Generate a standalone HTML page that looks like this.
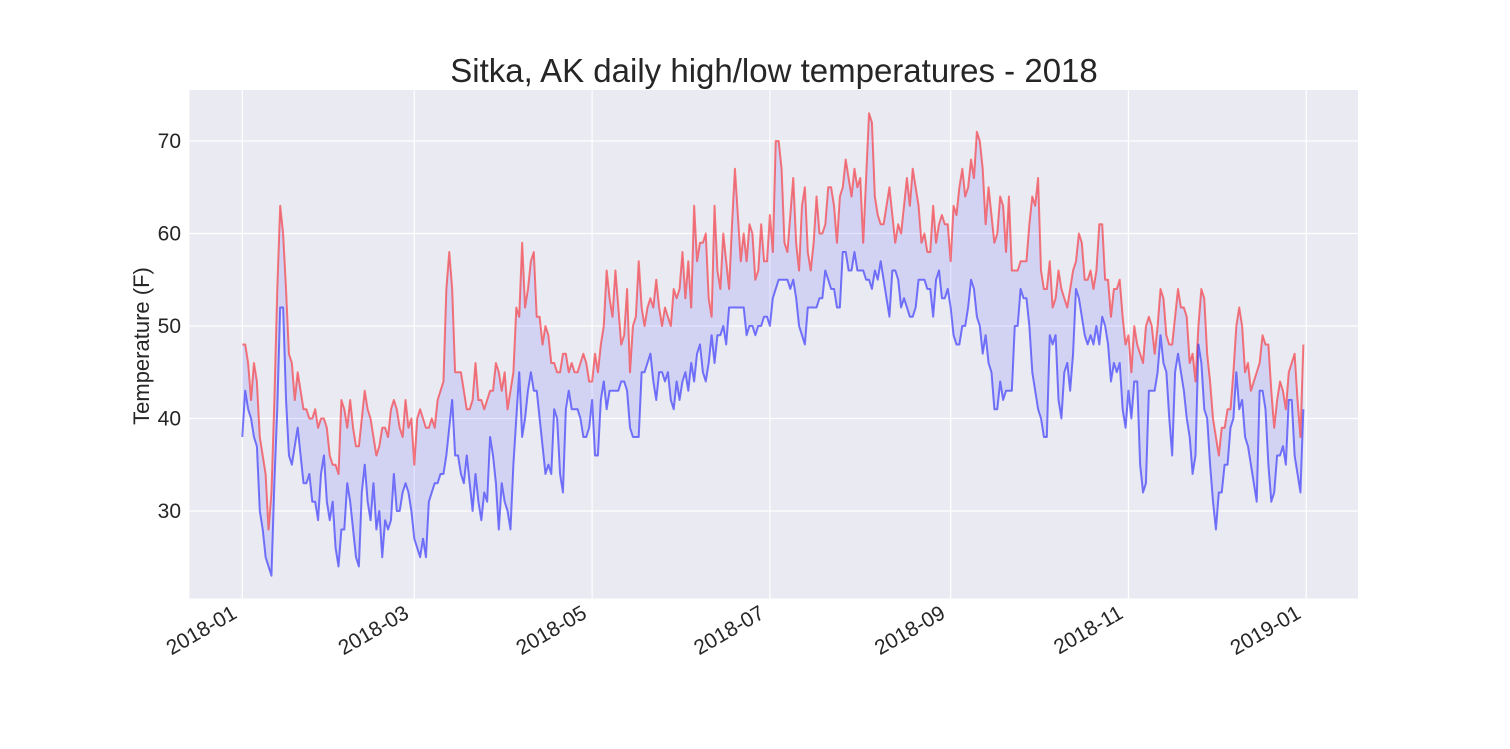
<!DOCTYPE html>
<html><head><meta charset="utf-8"><style>
html,body{margin:0;padding:0;background:#fff;}
svg{display:block;font-family:"Liberation Sans",sans-serif;}
</style></head><body>
<svg id="chart" width="1510" height="749" viewBox="0 0 1510 749">
<rect x="0" y="0" width="1510" height="749" fill="#fff"/>
<text x="774" y="82" text-anchor="middle" font-size="33" fill="#262626">Sitka, AK daily high/low temperatures - 2018</text>
<text transform="translate(149,346) rotate(-90)" text-anchor="middle" font-size="22" fill="#262626">Temperature (F)</text>
<rect x="189.5" y="90" width="1168.5" height="508.5" fill="#EAEAF2"/>
<g id="grid"></g>
<g id="series"></g>
<g id="ticks"></g>
</svg>
<script>
const highs = [48,48,46,42,46,44,38,36,34,28,32,42,54,63,60,54,47,46,42,45,43,41,41,40,40,41,39,40,40,39,36,35,35,34,42,41,39,42,39,37,37,40,43,41,40,38,36,37,39,39,38,41,42,41,39,38,42,39,40,35,
40,41,40,39,39,40,39,42,43,44,54,58,54,45,45,45,43,41,41,42,46,42,42,41,42,43,43,46,45,43,45,41,43,45,52,51,59,52,54,57,58,51,51,48,50,49,46,46,45,45,47,47,45,46,45,45,46,47,46,44,44,47,
45,48,50,56,53,51,56,52,48,49,54,45,50,51,57,52,50,52,53,52,55,52,50,52,51,50,54,53,54,58,53,57,52,63,57,59,59,60,53,51,63,56,54,60,57,54,61,67,62,57,60,57,61,60,55,56,61,57,57,62,58,
70,70,67,59,58,62,66,59,56,63,65,58,56,59,64,60,60,61,65,65,63,59,64,65,68,66,64,67,65,66,59,66,73,72,64,62,61,61,63,65,62,59,61,60,63,66,63,67,65,63,59,60,58,58,63,59,61,62,61,61,
57,63,62,65,67,64,65,68,66,71,70,67,61,65,62,59,60,64,63,58,64,56,56,56,57,57,57,61,64,63,66,56,54,54,57,52,53,56,54,53,52,54,56,57,60,59,55,55,56,54,56,61,61,55,55,51,54,54,
55,51,48,49,45,50,48,47,46,50,51,50,47,50,54,53,49,48,48,51,54,52,52,51,46,47,44,50,54,53,47,44,40,38,36,39,39,41,41,45,50,52,50,45,46,43,44,45,46,49,48,48,43,39,42,44,43,41,45,46,47,42,38,48];
const lows = [38,43,41,40,38,37,30,28,25,24,23,33,41,52,52,42,36,35,37,39,36,33,33,34,31,31,29,34,36,31,29,31,26,24,28,28,33,31,28,25,24,32,35,31,29,33,28,30,25,29,28,29,34,30,30,32,33,32,30,27,
26,25,27,25,31,32,33,33,34,34,36,39,42,36,36,34,33,36,33,30,34,31,29,32,31,38,36,33,28,33,31,30,28,35,40,45,38,40,43,45,43,43,40,37,34,35,34,41,40,34,32,41,43,41,41,41,40,38,38,39,42,36,
36,42,44,41,43,43,43,43,44,44,43,39,38,38,38,45,45,46,47,44,42,45,45,44,45,42,41,44,42,44,45,43,46,44,47,48,45,44,46,49,46,49,49,50,48,52,52,52,52,52,52,49,50,50,49,50,50,51,51,50,53,
54,55,55,55,55,54,55,53,50,49,48,52,52,52,52,53,53,56,55,54,54,52,52,58,58,56,56,58,56,56,56,55,55,54,56,55,57,55,53,51,56,56,55,52,53,52,51,51,52,55,55,55,54,54,51,55,56,53,53,54,
52,49,48,48,50,50,52,55,54,51,50,47,49,46,45,41,41,44,42,43,43,43,50,50,54,53,53,50,45,43,41,40,38,38,49,48,49,42,40,45,46,43,47,54,53,51,49,48,49,48,50,48,51,50,48,44,46,45,
46,41,39,43,40,44,44,35,32,33,43,43,43,45,49,46,45,40,36,45,47,45,43,40,38,34,36,48,46,41,40,35,31,28,32,32,35,35,39,40,45,41,42,38,37,35,33,31,43,43,41,35,31,32,36,36,37,35,42,42,36,34,32,41];
const yTicks = [30,40,50,60,70];
const xTickDays = [0,59,120,181,243,304,365];
const xTickLabels = ["2018-01","2018-03","2018-05","2018-07","2018-09","2018-11","2019-01"];

const NS="http://www.w3.org/2000/svg";
const X0=242.3, DX=2.915;
const xs = d => X0 + d*DX;
const ys = v => 141 + (70 - v)*9.25;
function mk(tag, attrs, parent){const e=document.createElementNS(NS,tag);for(const k in attrs)e.setAttribute(k,attrs[k]);parent.appendChild(e);return e;}
const gridG=document.getElementById('grid'), seriesG=document.getElementById('series'), ticksG=document.getElementById('ticks');

yTicks.forEach(v=>{
  const l=mk('line',{x1:189.5,x2:1358,y1:ys(v),y2:ys(v),stroke:'#fff','stroke-width':1.2},gridG);
  
  
  const t=mk('text',{x:181,y:ys(v)+7,'text-anchor':'end','font-size':21,fill:'#262626'},ticksG);
  t.textContent=v;
  
  
});
xTickDays.forEach((d,i)=>{
  const l=mk('line',{x1:xs(d),x2:xs(d),y1:90,y2:598.5,stroke:'#fff','stroke-width':1.2},gridG);
  
  
  const t=mk('text',{'text-anchor':'end','font-size':21,fill:'#262626',transform:'translate('+(xs(d)-4)+',617) rotate(-30)'},ticksG);
  t.textContent=xTickLabels[i];
  
  
});

const topPts=highs.map((v,i)=>xs(i).toFixed(2)+','+ys(v).toFixed(2));
const botPts=lows.map((v,i)=>xs(i).toFixed(2)+','+ys(v).toFixed(2));
const fillEl=mk('polygon',{points:topPts.concat(botPts.slice().reverse()).join(' '),fill:'#0000ff','fill-opacity':0.1,stroke:'none'},seriesG);


const hl=mk('polyline',{points:topPts.join(' '),fill:'none',stroke:'#ff0000','stroke-opacity':0.5,'stroke-width':2,'stroke-linejoin':'round'},seriesG);


const ll=mk('polyline',{points:botPts.join(' '),fill:'none',stroke:'#0000ff','stroke-opacity':0.5,'stroke-width':2,'stroke-linejoin':'round'},seriesG);


</script>
</body></html>
